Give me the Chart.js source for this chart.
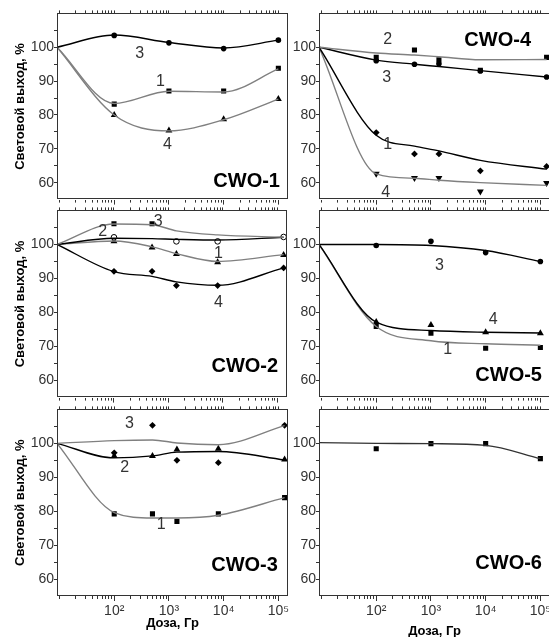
<!DOCTYPE html>
<html>
<head>
<meta charset="utf-8">
<script src="https://cdn.jsdelivr.net/npm/chart.js@4.4.1/dist/chart.umd.min.js"></script>
<style>
  html, body { margin: 0; padding: 0; background: #fff; overflow: hidden; width: 549px; height: 637px; }
  canvas { position: absolute; }
</style>
</head>
<body>
<canvas id="cwo1"></canvas>
<canvas id="cwo4"></canvas>
<canvas id="cwo2"></canvas>
<canvas id="cwo5"></canvas>
<canvas id="cwo3"></canvas>
<canvas id="cwo6"></canvas>
<script>
// axis ranges (the unirradiated point is drawn at the left edge, X_MIN)
const X_MIN = 9, X_MAX = 150000;
const Y_MIN = 55, Y_MAX = 110;
const yTicks = [60, 65, 70, 75, 80, 85, 90, 95, 100, 105];
const yLabels = [60, 70, 80, 90, 100];
const xMajor = [100, 1000, 10000, 100000];
const xLabels = ['10²', '10³', '10⁴', '10⁵'];

// doses, Gy
const doseA = [100, 1000, 10000, 100000];
const doseB = [100, 500, 1400, 8000, 130000];
const fitA = [X_MIN, 100, 1000, 10000, 100000];
const fitB = [X_MIN, 100, 500, 1400, 8000, 130000];

// CWO-1: measured and fitted light output, %
const cwo1_1 = [83.2, 87.1, 87.1, 93.8];
const cwo1_3 = [103.5, 101.3, 99.6, 102.1];
const cwo1_4 = [80.0, 75.4, 78.7, 84.7];
const cwo1_fit1 = [100, 83.4, 87.0, 86.8, 93.6];
const cwo1_fit3 = [100, 103.6, 101.4, 99.8, 102.1];
const cwo1_fit4 = [100, 80.0, 75.3, 78.6, 84.7];

// CWO-2
const cwo2_1 = [100.9, 99.1, 97.2, 94.8, 96.9];
const cwo2_2 = [102.1, null, 100.9, 100.9, 102.2];
const cwo2_3 = [106.1, 106.1, null, null, null];
const cwo2_4 = [92.1, 92.1, 87.9, 87.9, 93.1];
const cwo2_fit1 = [100, 101.0, 99.3, 97.3, 95.0, 97.0];
const cwo2_fit2 = [100, 101.8, 101.7, 101.5, 101.3, 102.1];
const cwo2_fit3 = [100, 106.0, 105.8, 104.0, 102.8, 102.1];
const cwo2_fit4 = [100, 92.0, 90.6, 89.0, 88.0, 93.1];

// CWO-3
const cwo3_1 = [79.2, 79.2, 77.0, 79.2, 84.0];
const cwo3_2 = [96.3, 96.3, 98.2, 98.4, 95.2];
const cwo3_3 = [97.2, 105.3, 95.0, 94.3, 105.3];
const cwo3_fit1 = [100, 79.6, 78.0, 78.0, 78.8, 84.0];
const cwo3_fit2 = [100, 95.7, 96.3, 97.4, 97.6, 95.1];
const cwo3_fit3 = [100, 100.8, 101.0, 100.1, 99.6, 105.2];

// CWO-4
const cwo4_1 = [74.8, 68.5, 68.5, 63.5, 64.8];
const cwo4_2 = [97.0, 99.2, 96.3, 93.2, 97.0];
const cwo4_3 = [96.0, 95.0, 95.1, 93.0, 91.2];
const cwo4_4 = [62.6, 61.4, 61.4, 57.4, 59.9];
const cwo4_fit1 = [100, 74.0, 70.8, 69.4, 66.6, 64.0];
const cwo4_fit2 = [100, 98.3, 97.7, 97.2, 96.3, 96.4];
const cwo4_fit3 = [100, 96.2, 95.0, 94.3, 93.1, 91.2];
const cwo4_fit4 = [100, 62.6, 61.3, 60.7, 60.0, 59.2];

// CWO-5
const cwo5_1 = [75.9, 73.9, 69.5, 69.7];
const cwo5_3 = [99.7, 100.9, 97.6, 95.0];
const cwo5_4 = [77.2, 76.3, 74.2, 73.9];
const cwo5_fit1 = [100, 75.9, 71.7, 70.8, 70.4];
const cwo5_fit3 = [100, 100.0, 99.7, 98.2, 95.0];
const cwo5_fit4 = [100, 77.2, 74.7, 74.2, 74.0];

// CWO-6
const cwo6_1 = [98.4, 99.9, 99.9, 95.5];
const cwo6_fit1 = [100.2, 100.0, 99.9, 99.4, 95.5];

const BLACK = '#000', GRAY = '#808080', AXIS = '#333';
const FONT = "'Liberation Sans', Arial, sans-serif";

const xTicksAll = [];
for (let e = 1; e <= 5; e++) {
  for (let m = 1; m <= 9; m++) {
    const v = m * Math.pow(10, e);
    if (v > X_MIN && v < X_MAX) xTicksAll.push(v);
  }
}
const xMinor = xTicksAll.filter(v => !xMajor.includes(v));

function pts(xs, ys) {
  return xs.map((x, i) => ({ x: x, y: ys[i] })).filter(p => p.y != null);
}

function marks(xs, ys, style, opts) {
  return Object.assign({
    data: pts(xs, ys), showLine: false, pointStyle: style, pointRadius: 3,
    pointBackgroundColor: BLACK, pointBorderColor: BLACK, pointBorderWidth: 0
  }, opts || {});
}

function fit(xs, ys, color) {
  return {
    data: pts(xs, ys), showLine: true, pointRadius: 0, borderColor: color,
    borderWidth: 1.4, cubicInterpolationMode: 'monotone', fill: false
  };
}

const SQ = { pointRadius: 3.6 };
const CI = { pointRadius: 2.8 };
const TR = { pointRadius: 4 };
const DI = { pointRadius: 3.4 };
const OPEN = { pointRadius: 2.8, pointBackgroundColor: '#fff', pointBorderWidth: 1 };
const INV = { pointRadius: 4, pointRotation: 180 };

const frame = {
  id: 'frame',
  afterDraw(chart) {
    const { ctx, chartArea: a } = chart;
    ctx.save();
    ctx.strokeStyle = AXIS;
    ctx.lineWidth = 1;
    ctx.strokeRect(Math.round(a.left) + 0.5, Math.round(a.top) + 0.5,
      Math.round(a.right - a.left) - 1, Math.round(a.bottom - a.top) - 1);
    ctx.restore();
  }
};

const panelText = {
  id: 'panelText',
  afterDatasetsDraw(chart, args, opts) {
    const { ctx } = chart;
    const x = chart.scales.x, y = chart.scales.y;
    ctx.save();
    ctx.textBaseline = 'middle';
    (opts.items || []).forEach(t => {
      if (t.name) {
        ctx.font = 'bold 20px ' + FONT;
        ctx.fillStyle = BLACK;
        ctx.textAlign = 'right';
      } else {
        ctx.font = '16px ' + FONT;
        ctx.fillStyle = '#333';
        ctx.textAlign = 'center';
      }
      ctx.fillText(t.text, x.getPixelForValue(t.x), y.getPixelForValue(t.y));
    });
    ctx.restore();
  }
};

// panel placement: column / row geometry
const COLS = [
  { left: 0, width: 292, yWidth: 57, yTitle: true },
  { left: 292, width: 262, yWidth: 27, yTitle: false }
];
const ROWS = [
  { top: 5, height: 203, xHeight: 5, labels: false },
  { top: 202, height: 204, xHeight: 5, labels: false },
  { top: 401, height: [231, 239], xHeight: [36, 44], labels: true }
];

function tickGrid(len) {
  return { drawOnChartArea: false, drawTicks: true, tickLength: len, color: AXIS, lineWidth: 1 };
}

function makePanel(id, col, row, datasets, items) {
  const c = COLS[col], r = ROWS[row];
  const h = Array.isArray(r.height) ? r.height[col] : r.height;
  const xh = Array.isArray(r.xHeight) ? r.xHeight[col] : r.xHeight;
  const cv = document.getElementById(id);
  cv.width = c.width; cv.height = h;
  cv.style.left = c.left + 'px'; cv.style.top = r.top + 'px';
  new Chart(cv, {
    type: 'line',
    data: { datasets: datasets },
    plugins: [frame, panelText],
    options: {
      responsive: false,
      animation: false,
      devicePixelRatio: 1,
      layout: { padding: { top: 3, right: 3, left: 0, bottom: r.labels ? 0 : 3 } },
      plugins: { legend: { display: false }, tooltip: { enabled: false }, panelText: { items: items } },
      scales: {
        xMinor: {
          type: 'logarithmic', position: 'bottom', min: X_MIN, max: X_MAX, weight: -1,
          afterBuildTicks: s => { s.ticks = xMinor.map(v => ({ value: v })); },
          afterFit: s => { s.height = 0; },
          grid: tickGrid(3), border: { display: false }, ticks: { display: false }
        },
        x: {
          type: 'logarithmic', position: 'bottom', min: X_MIN, max: X_MAX,
          afterBuildTicks: s => { s.ticks = xMajor.map(v => ({ value: v })); },
          afterFit: s => { s.height = xh; },
          grid: tickGrid(5), border: { display: false },
          ticks: {
            display: r.labels, autoSkip: false, maxRotation: 0, padding: 2,
            color: '#333', font: { family: FONT, size: 14 },
            callback: v => { const i = xMajor.indexOf(v); return i < 0 ? '' : xLabels[i]; }
          },
          title: {
            display: r.labels, text: 'Доза, Гр', color: BLACK,
            font: { family: FONT, size: 13, weight: 'bold' }, padding: { top: 0, bottom: 1 }
          }
        },
        xTop: {
          type: 'logarithmic', position: 'top', min: X_MIN, max: X_MAX,
          afterBuildTicks: s => { s.ticks = xTicksAll.map(v => ({ value: v })); },
          afterFit: s => { s.height = 5; },
          grid: tickGrid(3), border: { display: false }, ticks: { display: false }
        },
        y: {
          min: Y_MIN, max: Y_MAX,
          afterBuildTicks: s => { s.ticks = yTicks.map(v => ({ value: v })); },
          afterFit: s => { s.width = c.yWidth; },
          grid: tickGrid(3), border: { display: false },
          ticks: {
            padding: 0, color: '#333', font: { family: FONT, size: 14 },
            callback: v => yLabels.includes(v) ? String(v) : ''
          },
          title: {
            display: c.yTitle, text: 'Световой выход, %', color: BLACK,
            font: { family: FONT, size: 13, weight: 'bold' }, padding: { top: 13, bottom: 0 }
          }
        }
      }
    }
  });
}

makePanel('cwo1', 0, 0, [
  fit(fitA, cwo1_fit3, BLACK), fit(fitA, cwo1_fit1, GRAY), fit(fitA, cwo1_fit4, GRAY),
  marks(doseA, cwo1_3, 'circle', CI), marks(doseA, cwo1_1, 'rect', SQ), marks(doseA, cwo1_4, 'triangle', TR)
], [
  { text: '3', x: 291, y: 98.2 }, { text: '1', x: 702, y: 90 }, { text: '4', x: 942, y: 71.2 },
  { text: 'CWO-1', x: 107000, y: 60.3, name: true }
]);

makePanel('cwo4', 1, 0, [
  fit(fitB, cwo4_fit2, GRAY), fit(fitB, cwo4_fit3, BLACK), fit(fitB, cwo4_fit1, BLACK), fit(fitB, cwo4_fit4, GRAY),
  marks(doseB, cwo4_2, 'rect', SQ), marks(doseB, cwo4_3, 'circle', CI),
  marks(doseB, cwo4_1, 'rectRot', DI), marks(doseB, cwo4_4, 'triangle', INV)
], [
  { text: '2', x: 162, y: 102.4 }, { text: '3', x: 155, y: 90.9 },
  { text: '1', x: 162, y: 71.2 }, { text: '4', x: 149, y: 57.1 },
  { text: 'CWO-4', x: 67500, y: 102.1, name: true }
]);

makePanel('cwo2', 0, 1, [
  fit(fitB, cwo2_fit3, GRAY), fit(fitB, cwo2_fit2, BLACK), fit(fitB, cwo2_fit1, GRAY), fit(fitB, cwo2_fit4, BLACK),
  marks(doseB, cwo2_3, 'rect', SQ), marks(doseB, cwo2_2, 'circle', OPEN),
  marks(doseB, cwo2_1, 'triangle', TR), marks(doseB, cwo2_4, 'rectRot', DI)
], [
  { text: '2', x: 62, y: 103.8 }, { text: '3', x: 645, y: 106.7 },
  { text: '1', x: 8300, y: 97.4 }, { text: '4', x: 8300, y: 83 },
  { text: 'CWO-2', x: 103000, y: 64.1, name: true }
]);

makePanel('cwo5', 1, 1, [
  fit(fitA, cwo5_fit3, BLACK), fit(fitA, cwo5_fit4, BLACK), fit(fitA, cwo5_fit1, GRAY),
  marks(doseA, cwo5_3, 'circle', CI), marks(doseA, cwo5_4, 'triangle', TR), marks(doseA, cwo5_1, 'rect', SQ)
], [
  { text: '3', x: 1430, y: 93.8 }, { text: '4', x: 13800, y: 78.0 }, { text: '1', x: 2030, y: 69.0 },
  { text: 'CWO-5', x: 107000, y: 61.4, name: true }
]);

makePanel('cwo3', 0, 2, [
  fit(fitB, cwo3_fit3, GRAY), fit(fitB, cwo3_fit2, BLACK), fit(fitB, cwo3_fit1, GRAY),
  marks(doseB, cwo3_3, 'rectRot', DI), marks(doseB, cwo3_2, 'triangle', TR), marks(doseB, cwo3_1, 'rect', SQ)
], [
  { text: '3', x: 190, y: 105.8 }, { text: '2', x: 155, y: 92.9 }, { text: '1', x: 725, y: 75.9 },
  { text: 'CWO-3', x: 98000, y: 64.1, name: true }
]);

makePanel('cwo6', 1, 2, [
  fit(fitA, cwo6_fit1, '#333'),
  marks(doseA, cwo6_1, 'rect', SQ)
], [
  { text: 'CWO-6', x: 107000, y: 64.7, name: true }
]);
</script>
</body>
</html>
